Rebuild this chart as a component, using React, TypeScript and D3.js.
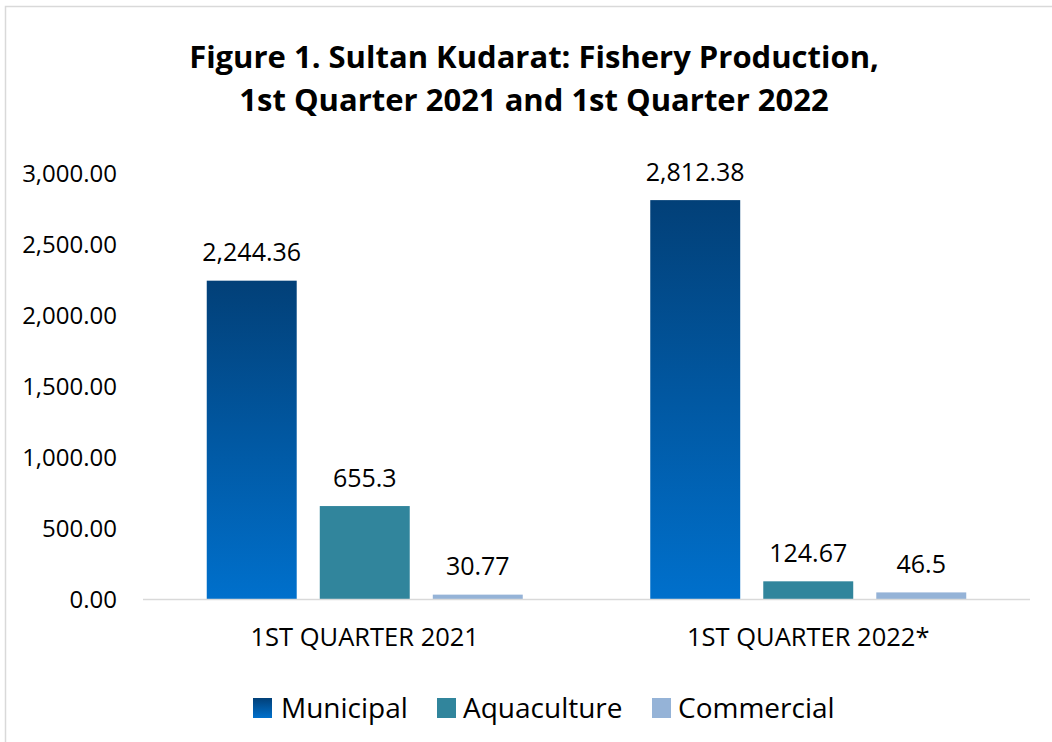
import React from "react";
import * as d3 from "d3";

const categories = ["1ST QUARTER 2021", "1ST QUARTER 2022*"];
const seriesNames = ["Municipal", "Aquaculture", "Commercial"];
const municipal = [2244.36, 2812.38];
const aquaculture = [655.3, 124.67];
const commercial = [30.77, 46.5];
const valueLabels = [
  ["2,244.36", "2,812.38"],
  ["655.3", "124.67"],
  ["30.77", "46.5"],
];
const yTicks = [0, 500, 1000, 1500, 2000, 2500, 3000];
const titleLines = [
  "Figure 1. Sultan Kudarat: Fishery Production,",
  "1st Quarter 2021 and 1st Quarter 2022",
];

const FONT = "'Open Sans', Carlito, Calibri, sans-serif";

export default function App() {
  const W = 1052;
  const H = 742;
  const plotLeft = 143;
  const plotRight = 1030;
  const baseY = 599;
  const topY = 173.5;

  const values = [municipal, aquaculture, commercial];
  const fills = ["url(#munGrad)", "#31859C", "#95B3D7"];

  const x0 = d3.scaleBand<string>().domain(categories).range([plotLeft, plotRight]).padding(0);
  const groupW = 316;
  const x1 = d3
    .scaleBand<string>()
    .domain(seriesNames)
    .range([(x0.bandwidth() - groupW) / 2, (x0.bandwidth() + groupW) / 2])
    .paddingInner(0.204)
    .paddingOuter(0);
  const y = d3.scaleLinear().domain([0, 3000]).range([baseY, topY]);
  const fmt = d3.format(",.2f");

  const legendItems = [
    { name: "Municipal", sx: 253, tx: 281 },
    { name: "Aquaculture", sx: 437, tx: 463 },
    { name: "Commercial", sx: 652, tx: 678 },
  ];

  return (
    <svg
      width={W}
      height={H}
      style={{ position: "absolute", left: 0, top: 0, background: "#fff" }}
      fontFamily={FONT}
    >
      <defs>
        <linearGradient id="munGrad" x1="0" y1="0" x2="0" y2="1">
          <stop offset="0%" stopColor="#024078" />
          <stop offset="100%" stopColor="#0070CC" />
        </linearGradient>
        <linearGradient id="munGradLeg" x1="0" y1="0" x2="0" y2="1">
          <stop offset="0%" stopColor="#024078" />
          <stop offset="100%" stopColor="#0070CC" />
        </linearGradient>
      </defs>
      <rect x={0} y={0} width={W} height={H} fill="#fff" />
      <rect x={5.5} y={6.5} width={W + 20} height={H + 20} fill="#fff" stroke="#D9D9D9" strokeWidth={1.5} />

      {titleLines.map((t, i) => (
        <text
          key={i}
          x={534}
          y={68 + i * 43}
          textAnchor="middle"
          fontSize={31}
          fontWeight="bold"
          fill="#000"
        >
          {t}
        </text>
      ))}

      {yTicks.map((t) => (
        <text key={t} x={117} y={y(t) + 8.5} textAnchor="end" fontSize={24} fill="#000">
          {fmt(t)}
        </text>
      ))}

      {categories.map((c, ci) =>
        seriesNames.map((s, si) => {
          const v = values[si][ci];
          const bx = (x0(c) as number) + (x1(s) as number);
          const bw = x1.bandwidth();
          return (
            <g key={c + s}>
              <rect x={bx} y={y(v)} width={bw} height={baseY - y(v)} fill={fills[si]} />
              <text x={bx + bw / 2} y={y(v) - 19.5} textAnchor="middle" fontSize={25} fill="#000">
                {valueLabels[si][ci]}
              </text>
            </g>
          );
        })
      )}

      <line x1={plotLeft} x2={plotRight} y1={baseY + 0.5} y2={baseY + 0.5} stroke="#D9D9D9" strokeWidth={1.5} />

      {categories.map((c) => (
        <text
          key={c}
          x={(x0(c) as number) + x0.bandwidth() / 2}
          y={646}
          textAnchor="middle"
          fontSize={25.5}
          fill="#000"
        >
          {c}
        </text>
      ))}

      {legendItems.map((l, i) => (
        <g key={l.name}>
          <rect x={l.sx} y={698} width={19} height={20} fill={i === 0 ? "url(#munGradLeg)" : fills[i]} />
          <text x={l.tx} y={718} fontSize={28} fill="#000">
            {l.name}
          </text>
        </g>
      ))}
    </svg>
  );
}
